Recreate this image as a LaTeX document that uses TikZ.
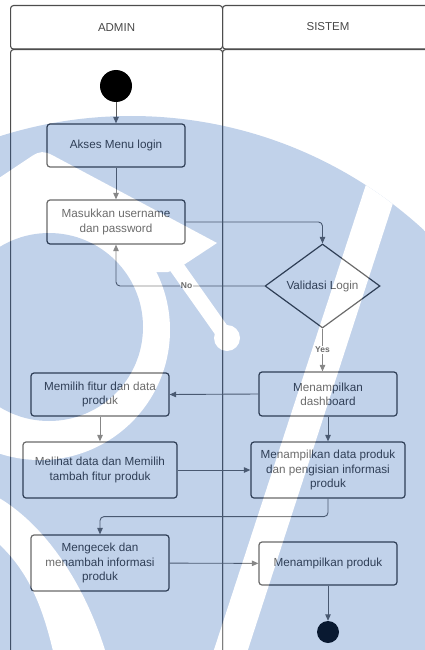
\documentclass[tikz,border=0pt]{standalone}
\usepackage{fontspec}
\setmainfont{Liberation Sans}
\usetikzlibrary{shapes.geometric,arrows.meta,calc}
\definecolor{ink}{HTML}{333333}
\definecolor{edge}{HTML}{595959}
\definecolor{lane}{HTML}{4D4D4D}
\definecolor{wmblue}{RGB}{34,92,178}
\begin{document}
\begin{tikzpicture}[x=1pt,y=-1pt,
  txt/.style={font=\fontsize{11.7pt}{14.3pt}\selectfont, text=ink, align=center},
  stepbox/.style={txt, draw=ink, line width=1.2pt, rounded corners=3pt, inner sep=0pt},
  flow/.style={draw=edge, line width=0.9pt, -{Triangle[length=6.5pt,width=5.5pt]}, rounded corners=4pt},
  lbl/.style={font=\fontsize{8.5pt}{10pt}\selectfont\bfseries, text=ink, fill=white, inner sep=1pt},
  lanebox/.style={draw=lane, line width=1.1pt, rounded corners=3pt, inner sep=0pt, anchor=north west},
  hdrtxt/.style={font=\fontsize{11.5pt}{14pt}\selectfont, text=ink!90},
  dot/.style={circle, fill=black, inner sep=0pt},
]
\useasboundingbox (0,0) rectangle (424,650);

% swimlanes
\node[lanebox, minimum width=212pt, minimum height=43.5pt, hdrtxt] (hdrA) at (10,5) {ADMIN};
\node[lanebox, minimum width=220pt, minimum height=43.5pt, hdrtxt] (hdrS) at (222,5) {};
\node[hdrtxt] (hdrSt) at (328,26.5) {SISTEM};
\node[lanebox, minimum width=212pt, minimum height=620pt] (laneA) at (10,49) {};
\node[lanebox, minimum width=220pt, minimum height=620pt] (laneS) at (222,49) {};

% activity nodes
\node[dot, minimum size=32pt] (start) at (116,86) {};
\node[stepbox, minimum width=138pt, minimum height=43pt] (akses) at (116,145.5) {Akses Menu login};
\node[stepbox, minimum width=138pt, minimum height=44pt] (masuk) at (116,222) {Masukkan username\\dan password};
\node[diamond, draw=ink, line width=1.2pt, minimum width=115pt, minimum height=84pt,
      inner sep=0pt, shape aspect=1.37, txt] (valid) at (322.5,286) {Validasi Login};
\node[stepbox, minimum width=138pt, minimum height=44pt] (dash) at (328,394) {Menampilkan\\dashboard};
\node[stepbox, minimum width=138pt, minimum height=43pt] (pilih) at (100,394.5) {Memilih fitur dan data\\produk};
\node[stepbox, minimum width=154pt, minimum height=56pt] (lihat) at (100,470) {Melihat data dan Memilih\\tambah fitur produk};
\node[stepbox, minimum width=154pt, minimum height=56pt] (tampil) at (328,470) {Menampilkan data produk\\dan pengisian informasi\\produk};
\node[stepbox, minimum width=138pt, minimum height=56pt] (cek) at (100,563) {Mengecek dan\\menambah informasi\\produk};
\node[stepbox, minimum width=138pt, minimum height=43pt] (produk) at (328,563.5) {Menampilkan produk};
\node[dot, minimum size=22pt] (stop) at (328,632) {};

% connectors
\draw[flow] (start) -- (akses);
\draw[flow] (akses) -- (masuk);
\draw[flow] (masuk.east) -| (valid.north);
\draw[flow] (valid.west) -| node[pos=0.262, lbl] {No} (masuk.south);
\draw[flow] (valid.south) -- node[lbl] {Yes} (valid.south |- dash.north);
\draw[flow] (dash.west) -- (pilih.east);
\draw[flow] (pilih) -- (lihat);
\draw[flow] (dash) -- (tampil);
\draw[flow] (lihat) -- (tampil);
\draw[flow] (tampil.south) -- ++(0,18) -| (cek.north);
\draw[flow] (cek) -- (produk);
\draw[flow] (produk) -- (stop);

% translucent emblem laid over the chart
\begin{scope}[transparency group, opacity=0.28]
  \clip (131,549) circle [radius=433pt];
  \fill[wmblue] (-10,100) rectangle (440,700);
  % hooked head with its tail
  \fill[white] (-10,184) -- (32,156) .. controls (40,151) and (44,151) .. (52,155)
    -- (217,243) -- (179,268) -- (168,272) -- (150,272) -- (0,282) -- (-10,282) -- cycle;
  \draw[white, line width=15pt, line cap=round] (176,266) -- (224,334);
  \fill[white] (227,338) circle [radius=13pt];
  % ring around the inner disc
  \fill[white] (40,330) circle [radius=130pt];
  \fill[wmblue] (49,327) circle [radius=94pt];
  % lower-left sweep
  \fill[white] (-10,493) .. controls (40,518) and (85,580) .. (108,660)
    -- (55,660) .. controls (42,600) and (25,565) .. (-10,536) -- cycle;
  % long slanted bar
  \fill[white] (374,160) -- (209,665) -- (243,665) -- (407,160) -- cycle;
\end{scope}
\end{tikzpicture}
\end{document}
